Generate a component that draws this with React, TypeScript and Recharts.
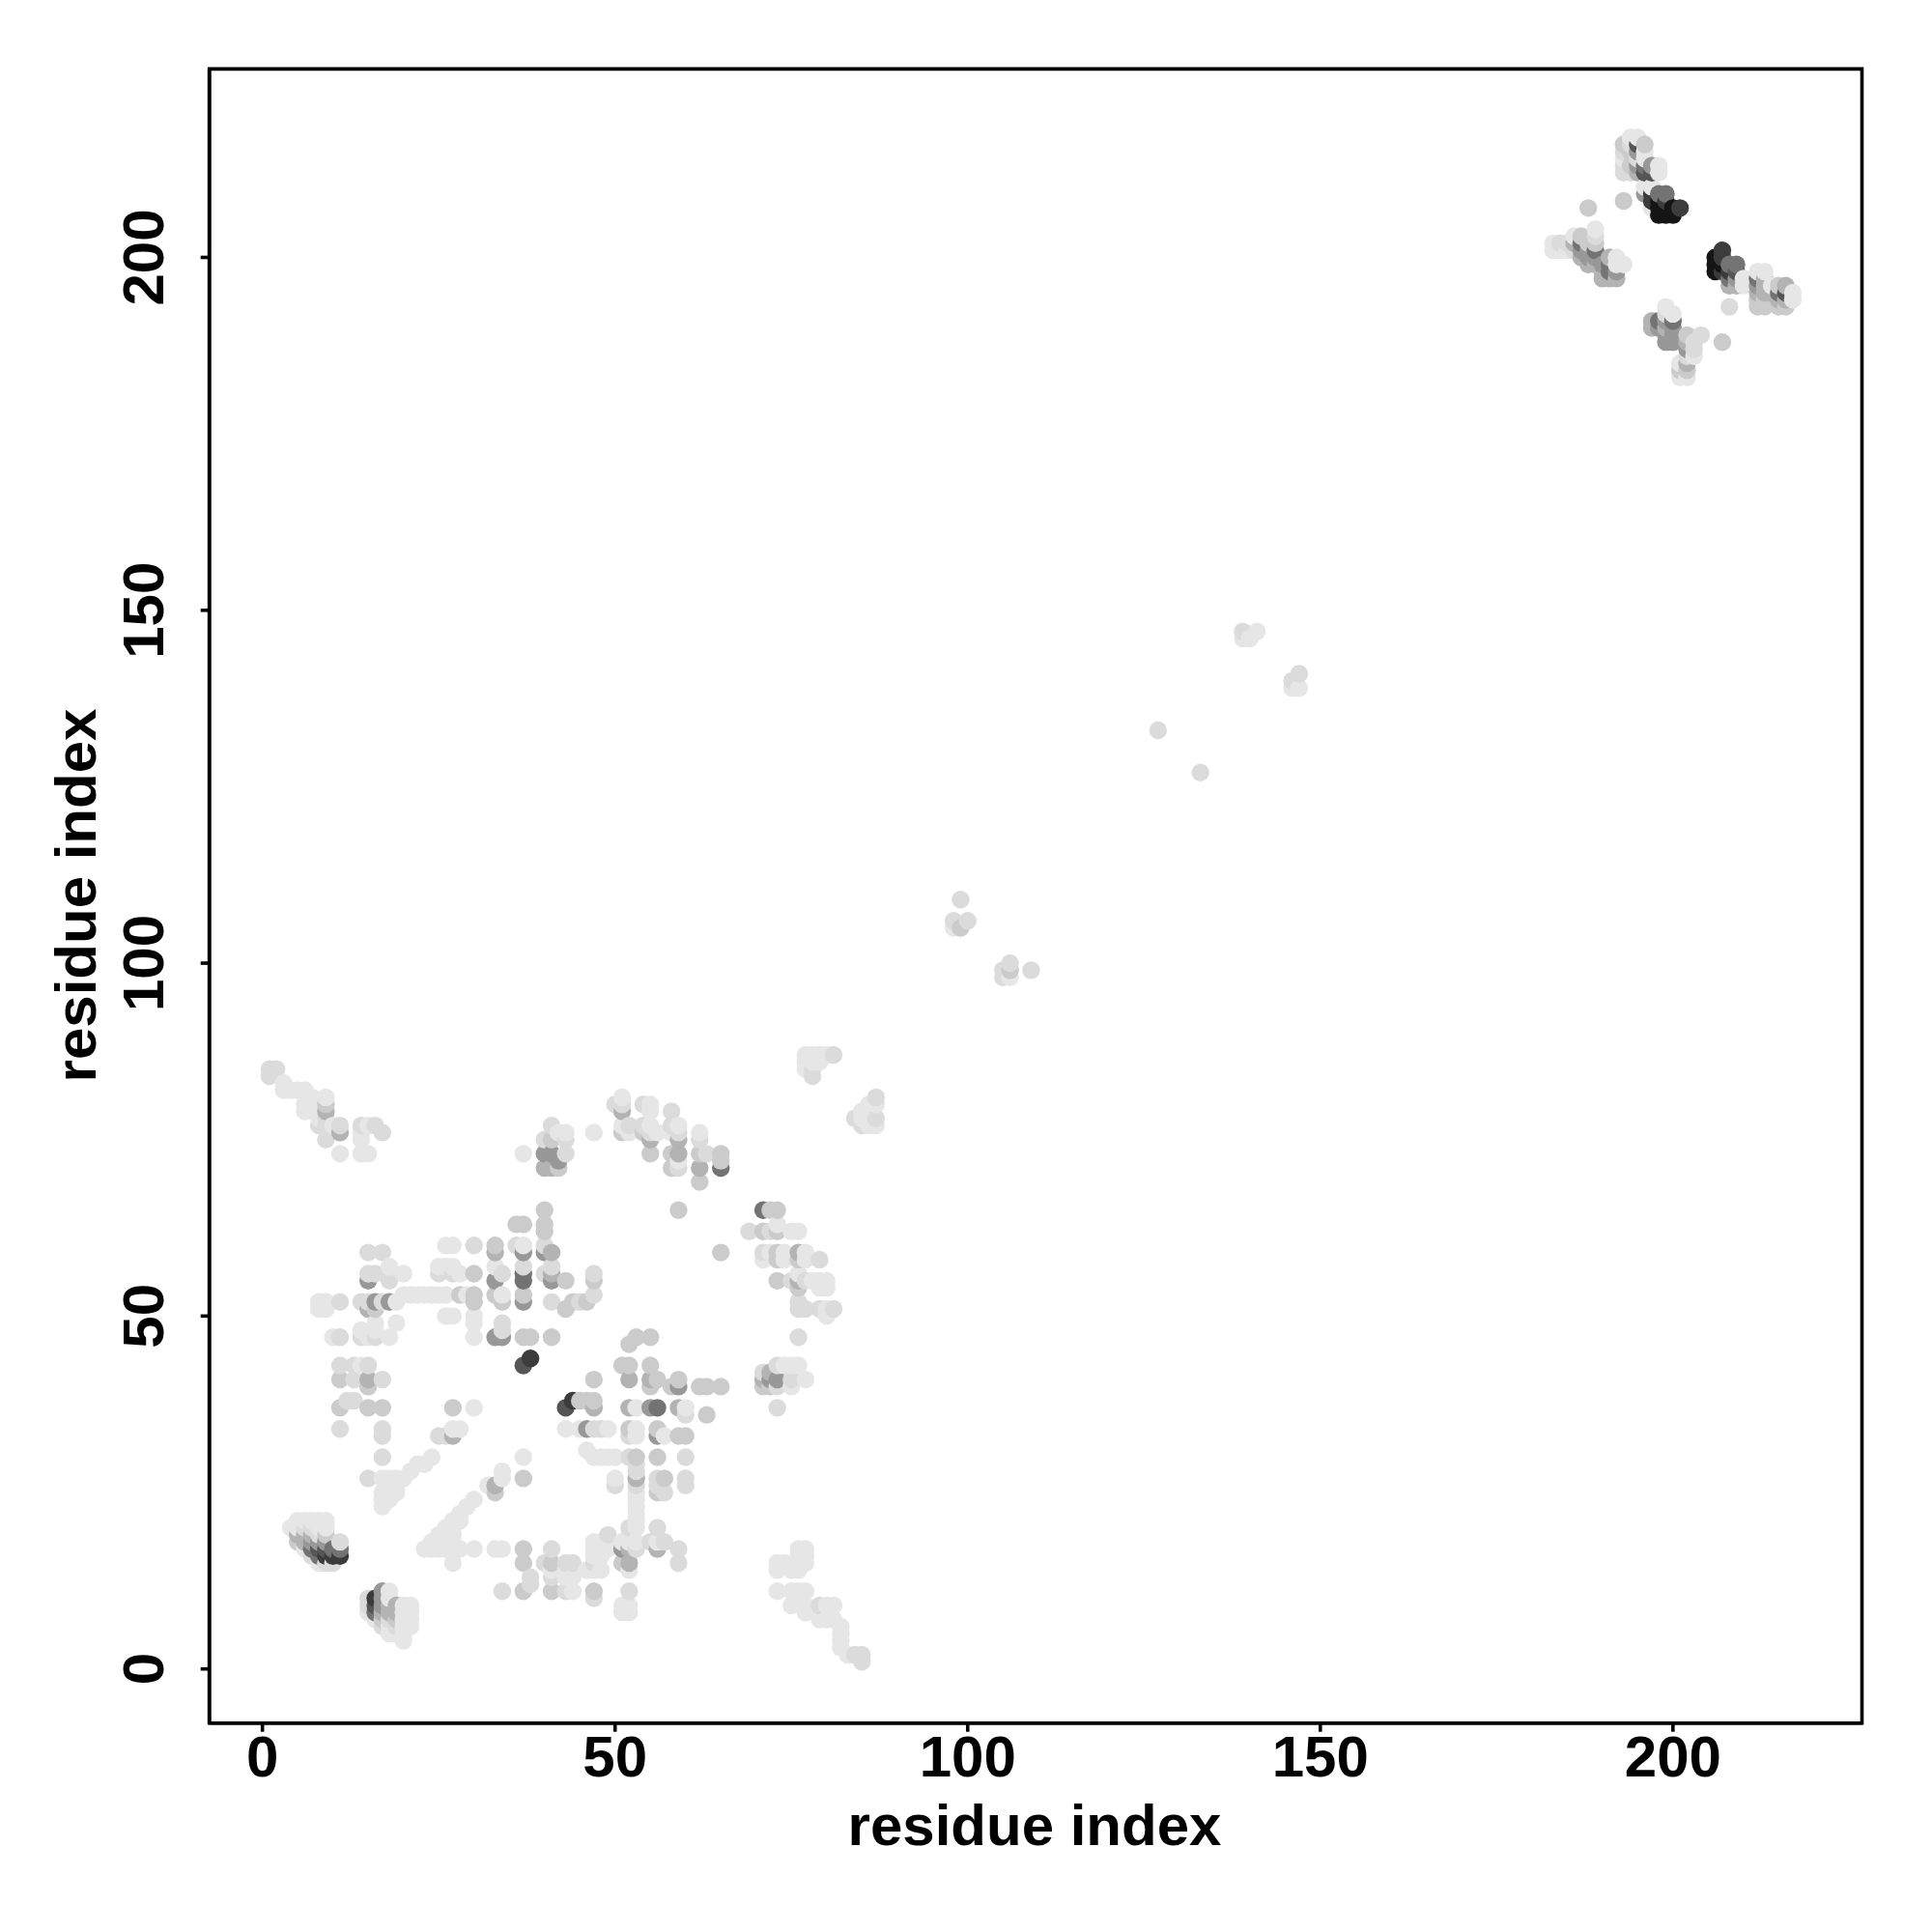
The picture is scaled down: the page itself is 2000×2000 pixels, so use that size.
import React from 'react';
import { ScatterChart, Scatter, XAxis, YAxis, ReferenceArea, Label } from 'recharts';

type P = [number, number];

const xTicks = [0, 50, 100, 150, 200];
const yTicks = [0, 50, 100, 150, 200];

const tone15: P[] = [[198,208],[198,207],[198,206],[199,207],[199,206],[200,207],[200,206],[206,200],[206,199],[206,198],[207,199]];
const tone3c: P[] = [[38,44],[44,38],[16,10],[9,16],[10,16],[11,16],[197,209],[197,208],[199,208],[201,207],[207,201],[207,200],[207,198],[208,198]];
const tone55: P[] = [[37,43],[43,37],[16,9],[8,17],[9,17],[195,216],[196,212],[197,212],[209,198],[216,195]];
const tone6f: P[] = [[71,65],[56,37],[37,56],[37,55],[65,71],[16,8],[8,16],[7,17],[198,209],[199,209],[208,199],[209,199],[208,197],[187,202],[189,201],[191,199],[191,198],[196,213],[212,197],[215,195],[198,191],[200,191],[10,17],[11,17]];
const tone8b: P[] = [[40,59],[37,59],[33,55],[37,52],[41,55],[16,52],[18,52],[15,55],[33,47],[34,47],[41,73],[40,73],[42,72],[59,40],[56,33],[46,34],[51,17],[73,41],[72,41],[55,37],[17,11],[17,10],[17,9],[9,18],[8,18],[7,18],[195,215],[195,213],[197,213],[196,209],[209,197],[187,201],[188,201],[188,200],[189,200],[190,199],[192,198],[212,196],[198,190],[199,191],[199,189],[199,188],[200,190],[200,189],[200,188],[202,187]];
const toneAb: P[] = [[9,79],[41,59],[33,59],[41,56],[15,51],[11,76],[40,71],[41,71],[62,71],[51,79],[55,75],[59,75],[59,73],[59,37],[55,41],[52,41],[47,37],[52,37],[53,27],[76,59],[76,55],[72,42],[71,41],[52,17],[56,17],[52,15],[15,41],[27,33],[33,26],[17,8],[18,9],[18,8],[19,9],[19,8],[5,19],[6,19],[6,18],[7,19],[195,212],[208,196],[209,196],[187,200],[188,199],[189,199],[190,198],[190,197],[191,200],[191,197],[192,197],[197,191],[197,190],[199,190],[202,188],[202,185],[213,197],[213,196],[213,195],[214,195],[212,195],[215,194],[216,196],[216,194],[186,202]];
const toneC9: P[] = [[9,80],[37,53],[37,63],[41,75],[42,71],[36,63],[40,65],[40,63],[40,62],[33,60],[30,56],[43,55],[44,52],[43,51],[30,53],[30,52],[28,53],[33,53],[34,52],[37,47],[38,47],[41,47],[16,51],[51,76],[54,76],[55,73],[58,73],[58,71],[62,73],[65,73],[65,72],[59,65],[65,59],[72,65],[73,65],[71,62],[73,62],[73,59],[73,58],[73,55],[76,58],[76,54],[47,55],[46,52],[52,46],[53,47],[55,47],[11,41],[15,40],[11,37],[15,37],[17,37],[27,37],[37,27],[37,17],[37,15],[41,15],[37,11],[41,11],[51,43],[52,43],[55,43],[47,41],[55,40],[56,41],[62,40],[63,40],[65,40],[58,40],[47,38],[46,38],[45,38],[63,36],[52,34],[56,34],[59,33],[60,33],[53,30],[56,30],[57,27],[71,40],[72,40],[59,41],[56,25],[188,207],[193,208],[193,216],[196,216],[194,215],[194,213],[187,203],[188,202],[189,202],[207,188],[215,196],[213,193],[212,193],[212,194],[213,194],[215,193],[216,193],[197,190],[202,189],[201,184],[202,184],[62,69],[33,25],[47,11],[51,15],[99,105],[106,99],[17,7],[19,7],[9,19],[5,18]];
const toneDc: P[] = [[1,84],[1,85],[2,85],[9,78],[9,77],[8,77],[9,75],[11,77],[14,77],[16,77],[17,76],[37,57],[40,75],[43,75],[41,77],[43,73],[30,60],[15,59],[17,59],[18,55],[15,56],[16,56],[25,56],[27,56],[34,56],[40,60],[41,57],[40,56],[41,52],[36,60],[11,52],[14,52],[15,52],[17,52],[14,47],[11,47],[16,47],[34,49],[34,48],[47,56],[47,53],[45,52],[50,80],[51,80],[54,80],[54,77],[52,77],[55,76],[58,79],[58,77],[59,76],[59,71],[62,75],[63,73],[69,62],[72,62],[71,59],[75,55],[77,55],[79,58],[76,51],[77,51],[79,51],[81,51],[76,52],[78,84],[78,85],[81,87],[84,78],[85,77],[87,81],[87,78],[11,43],[13,43],[15,43],[17,41],[13,41],[12,38],[13,38],[17,34],[17,33],[11,34],[17,30],[15,27],[26,33],[25,33],[34,11],[41,17],[40,15],[43,15],[41,13],[43,11],[38,13],[38,12],[52,11],[47,10],[53,29],[53,28],[53,26],[50,26],[56,27],[56,26],[60,27],[60,26],[57,25],[52,20],[56,20],[49,19],[55,18],[57,18],[59,17],[59,15],[53,17],[47,15],[44,15],[73,43],[75,41],[71,42],[73,40],[73,37],[76,47],[47,34],[48,34],[52,33],[60,36],[52,30],[60,30],[127,133],[133,127],[139,147],[146,140],[147,141],[106,100],[105,98],[105,99],[100,106],[98,106],[99,109],[109,99],[79,9],[84,2],[85,2],[85,1],[184,202],[185,202],[186,201],[189,203],[193,212],[193,213],[194,212],[194,216],[208,193],[199,192],[204,189],[203,188],[203,187],[202,186],[15,10],[15,9],[17,6],[8,19],[7,20],[6,20],[7,16],[9,15],[10,15],[11,18],[18,7],[19,6],[195,214],[193,215]];
const toneE7: P[] = [[3,83],[3,82],[4,82],[5,82],[6,82],[7,81],[6,80],[6,79],[7,79],[9,81],[8,78],[10,77],[11,73],[14,76],[14,75],[14,73],[15,73],[15,77],[37,73],[42,76],[43,76],[26,60],[27,60],[37,60],[18,57],[20,56],[25,57],[26,57],[27,57],[28,56],[33,57],[20,53],[21,53],[22,53],[23,53],[24,53],[25,53],[26,53],[29,53],[8,52],[9,52],[8,51],[9,51],[19,52],[19,49],[14,48],[16,49],[16,48],[18,47],[15,47],[10,47],[26,50],[27,50],[30,50],[30,49],[30,47],[34,53],[47,76],[51,81],[51,77],[52,76],[55,80],[55,79],[55,77],[56,76],[59,77],[58,76],[59,72],[62,76],[75,62],[76,62],[73,63],[74,59],[74,58],[77,59],[77,58],[72,59],[71,58],[76,56],[78,55],[79,55],[80,55],[80,54],[79,54],[76,47],[80,51],[80,50],[77,87],[78,87],[79,87],[80,87],[77,86],[78,86],[79,86],[77,85],[87,80],[86,80],[85,79],[86,77],[87,77],[86,78],[85,78],[14,43],[17,24],[17,23],[17,25],[18,25],[18,26],[19,26],[18,27],[19,27],[21,28],[22,29],[23,29],[24,30],[17,27],[18,24],[19,25],[20,27],[27,17],[26,17],[25,17],[24,17],[23,17],[24,18],[25,19],[26,20],[27,21],[28,22],[29,23],[30,24],[27,18],[27,19],[27,20],[28,21],[28,17],[27,15],[30,17],[33,17],[34,17],[32,26],[34,28],[34,27],[37,30],[30,37],[28,34],[27,34],[43,14],[43,13],[44,13],[44,11],[41,14],[43,34],[45,34],[49,34],[46,31],[47,30],[48,30],[49,30],[50,30],[50,27],[53,25],[53,24],[53,23],[53,22],[53,21],[53,20],[52,19],[47,18],[48,18],[49,18],[47,17],[49,17],[48,16],[47,16],[46,14],[47,14],[48,14],[51,18],[52,18],[53,18],[56,18],[52,8],[51,9],[52,9],[51,8],[52,14],[73,15],[73,14],[74,15],[75,14],[76,17],[77,17],[76,16],[77,16],[77,15],[76,14],[73,11],[75,11],[76,11],[77,11],[75,9],[77,9],[77,8],[80,9],[81,9],[79,7],[80,7],[81,7],[82,6],[82,5],[82,4],[82,3],[83,2],[74,43],[75,43],[76,43],[77,41],[75,40],[53,37],[60,37],[53,34],[53,33],[57,33],[140,146],[139,146],[146,139],[147,139],[141,147],[98,105],[106,98],[4,20],[5,21],[5,20],[6,21],[7,21],[8,21],[8,20],[9,21],[9,20],[6,17],[8,15],[15,8],[16,7],[18,6],[18,5],[19,5],[20,4],[20,5],[18,11],[18,10],[20,9],[21,9],[20,8],[21,8],[20,7],[21,7],[20,6],[21,6],[183,202],[183,201],[184,201],[185,201],[186,203],[189,204],[192,199],[192,200],[193,199],[194,217],[195,217],[193,214],[198,213],[198,212],[196,214],[196,215],[196,210],[197,210],[197,207],[199,193],[200,192],[203,186],[201,185],[201,183],[202,183],[212,198],[213,198],[214,196],[217,195],[217,194],[210,197],[210,196]];

const tiers: { points: P[]; fill: string }[] = [
  { points: toneE7, fill: '#e6e6e6' },
  { points: toneDc, fill: '#dbdbdb' },
  { points: toneC9, fill: '#cbcbcb' },
  { points: toneAb, fill: '#b3b3b3' },
  { points: tone8b, fill: '#989898' },
  { points: tone6f, fill: '#737373' },
  { points: tone55, fill: '#555555' },
  { points: tone3c, fill: '#3c3c3c' },
  { points: tone15, fill: '#151515' },
];

// one table, scanned column by column like the original matrix; a repeated cell keeps its darker tone
const merged = new Map<string, { x: number; y: number; fill: string }>();
tiers.forEach((t) => t.points.forEach(([x, y]) => merged.set(`${x},${y}`, { x, y, fill: t.fill })));
const table = [...merged.values()].sort((a, b) => a.x - b.x || a.y - b.y);

const FONT = '"Liberation Sans", Arial, sans-serif';
const LW = 3.6;

const XTick = (p: any) => (
  <text x={p.x} y={p.y + 24} textAnchor="middle" fontFamily={FONT} fontWeight="bold" fontSize={60} fill="#000" dominantBaseline="central">
    {p.payload.value}
  </text>
);
const YTick = (p: any) => (
  <text x={0} y={0} transform={`translate(${148} ${p.y}) rotate(-90)`} textAnchor="middle" fontFamily={FONT} fontWeight="bold" fontSize={60} fill="#000" dominantBaseline="central">
    {p.payload.value}
  </text>
);

export default function App() {
  return (
    <div style={{ position: 'absolute', left: 0, top: 0, width: 2000, height: 2000, background: '#fff' }}>
      <ScatterChart width={2000} height={2000} margin={{ top: 71.4, right: 72.5, bottom: 0, left: 0 }}>
        <XAxis
          type="number"
          dataKey="x"
          domain={[-7.53, 226.8]}
          ticks={xTicks}
          height={216.3}
          allowDataOverflow
          axisLine={{ stroke: '#000', strokeWidth: LW }}
          tickLine={{ stroke: '#000', strokeWidth: LW }}
          tickSize={9}
          tick={XTick}
          interval={0}
        >
          <Label
            content={() => (
              <text x={1071} y={1889} textAnchor="middle" dominantBaseline="central" fontFamily={FONT} fontWeight="bold" fontSize={60} fill="#000">
                residue index
              </text>
            )}
          />
        </XAxis>
        <YAxis
          type="number"
          dataKey="y"
          domain={[-7.67, 226.7]}
          ticks={yTicks}
          width={216.7}
          allowDataOverflow
          axisLine={{ stroke: '#000', strokeWidth: LW }}
          tickLine={{ stroke: '#000', strokeWidth: LW }}
          tickSize={9}
          tick={YTick}
          interval={0}
        >
          <Label
            content={() => (
              <text x={0} y={0} transform="translate(78 927) rotate(-90)" textAnchor="middle" dominantBaseline="central" fontFamily={FONT} fontWeight="bold" fontSize={60} fill="#000">
                residue index
              </text>
            )}
          />
        </YAxis>
        <Scatter
          data={table}
          isAnimationActive={false}
          shape={(s: any) => <circle cx={s.cx} cy={s.cy} r={9.2} fill={s.payload?.fill ?? s.fill} />}
        />
        <ReferenceArea x1={-7.53} x2={226.8} y1={-7.67} y2={226.7} fill="none" stroke="#000" strokeWidth={LW} />
      </ScatterChart>
    </div>
  );
}
